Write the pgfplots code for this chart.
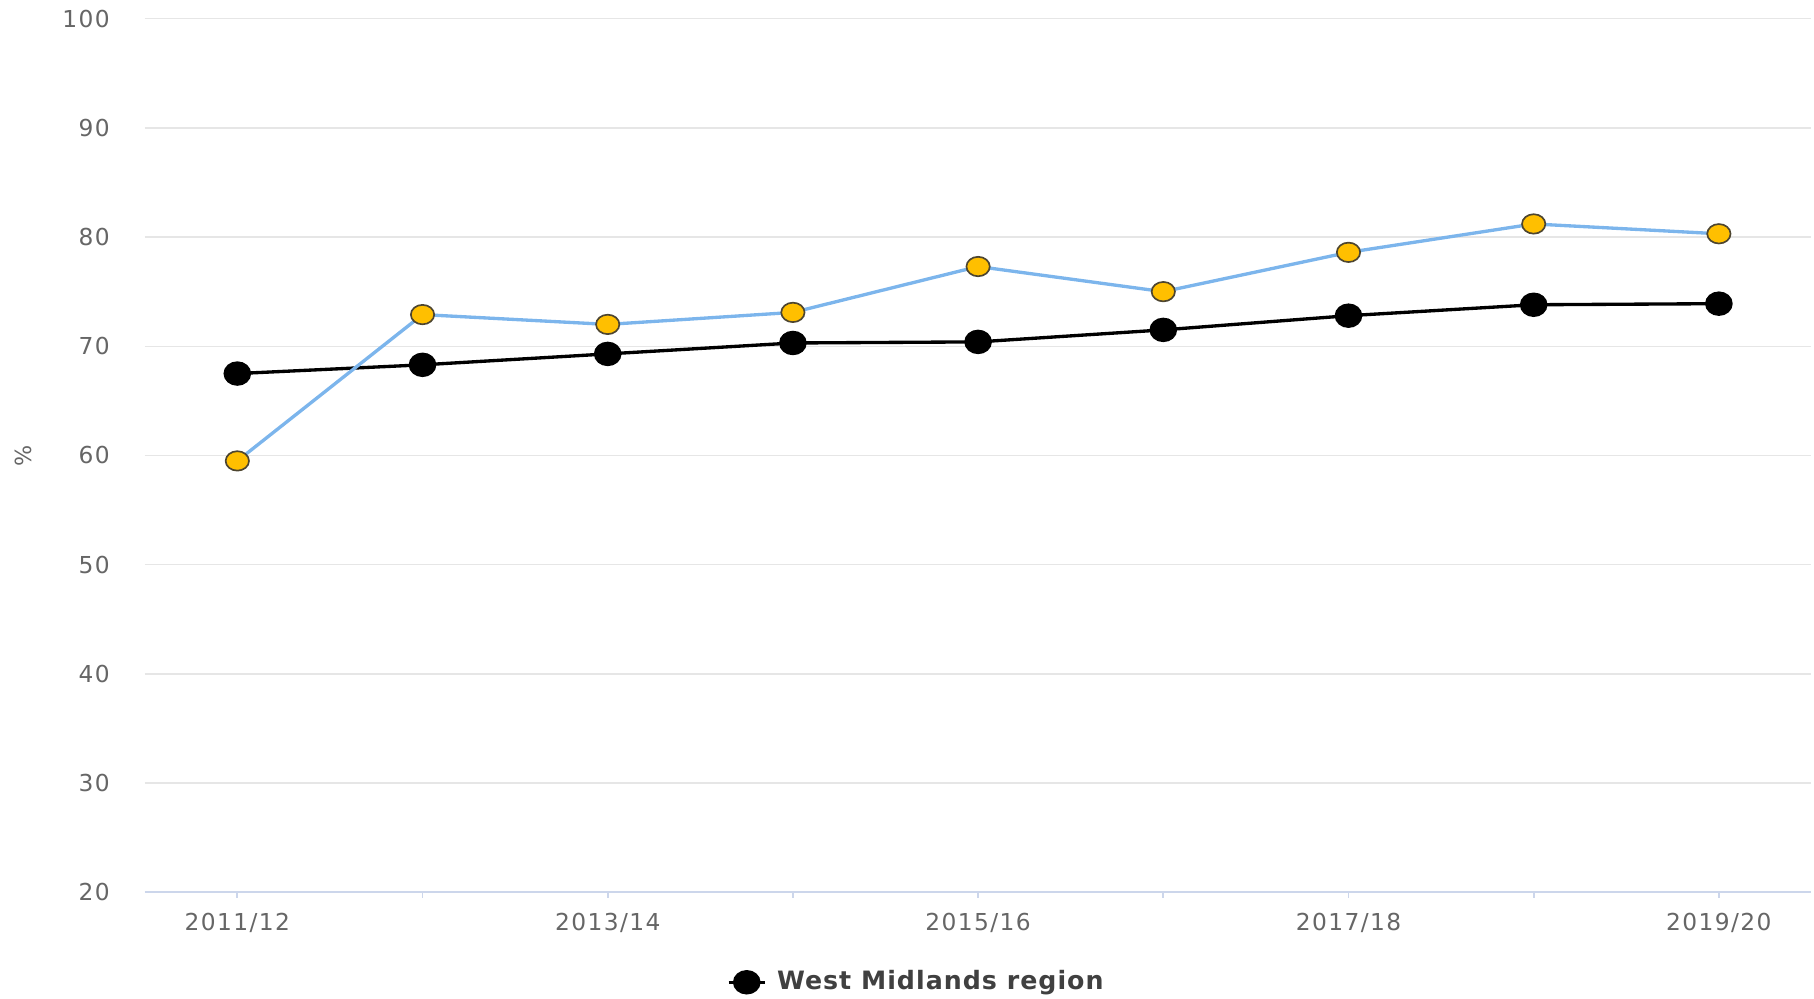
\documentclass[border=0pt]{standalone}
\usepackage{pgfplots}
\pgfplotsset{compat=1.18}
\usepackage{fontspec}
\setmainfont{DejaVu Sans}
\newfontfamily\tickfont[LetterSpace=6]{DejaVu Sans}
\newfontfamily\legfont[LetterSpace=4]{DejaVu Sans}

\definecolor{gridgray}{HTML}{E6E6E6}
\definecolor{axisline}{HTML}{CCD6EB}
\definecolor{labelgray}{HTML}{666666}
\definecolor{lineblue}{HTML}{7CB5EC}
\definecolor{markyellow}{HTML}{FFBF00}
\definecolor{markedge}{HTML}{4D4530}

\begin{document}
\begin{tikzpicture}
\begin{axis}[
  scale only axis,
  width=600pt, height=314.5pt,
  xmin=-0.5, xmax=8.5, ymin=20, ymax=100,
  xtick={0,...,8},
  xticklabels={2011/12,,2013/14,,2015/16,,2017/18,,2019/20},
  ytick={20,30,...,100},
  axis x line*=bottom, axis y line*=left,
  x axis line style={-, draw=axisline, line width=0.6pt},
  y axis line style={draw=none},
  xtick style={draw=axisline, line width=0.6pt},
  ytick style={draw=none},
  tick align=outside,
  major tick length=2pt,
  ymajorgrids,
  grid style={gridgray, line width=0.5pt},
  /pgf/number format/assume math mode=true,
  ticklabel style={font=\tickfont\fontsize{8.4}{10}\selectfont, text=labelgray},
  xticklabel style={anchor=north, inner sep=0pt, yshift=-5.3pt},
  yticklabel style={anchor=east, inner sep=0pt, xshift=-10.4pt},
  ylabel={\%},
  ylabel style={at={(axis description cs:0,0.5)}, anchor=center, yshift=43.8pt,
    font=\fontsize{8}{10}\selectfont, text=labelgray},
  legend style={at={(0.464,-0.103)}, anchor=center, draw=none, fill=none,
    inner sep=0pt, font=\legfont\bfseries\fontsize{9.1}{11}\selectfont,
    text=black!75},
  legend image code/.code={
    \draw[#1, mark repeat=2, mark phase=2] plot coordinates {(-0.5pt,0pt) (6pt,0pt) (12.5pt,0pt)};
  },
]
\addplot[black, line width=1.2pt, mark=*, mark size=3.8pt,
  mark options={xscale=1.15, fill=black, draw=black}]
  coordinates {(0,67.5) (1,68.3) (2,69.3) (3,70.3) (4,70.4) (5,71.5) (6,72.8) (7,73.8) (8,73.9)};
\addlegendentry{\hspace{1.8pt}West Midlands region}
\addplot[lineblue, line width=1.2pt, mark=*, mark size=3.5pt,
  mark options={xscale=1.2, fill=markyellow, draw=markedge, line width=0.6pt}, forget plot]
  coordinates {(0,59.5) (1,72.9) (2,72.0) (3,73.1) (4,77.3) (5,75.0) (6,78.6) (7,81.2) (8,80.3)};
\end{axis}
\pgfresetboundingbox
\path[use as bounding box] (-52.1pt,-38.2pt) rectangle (600.9pt,321.2pt);
\end{tikzpicture}
\end{document}
